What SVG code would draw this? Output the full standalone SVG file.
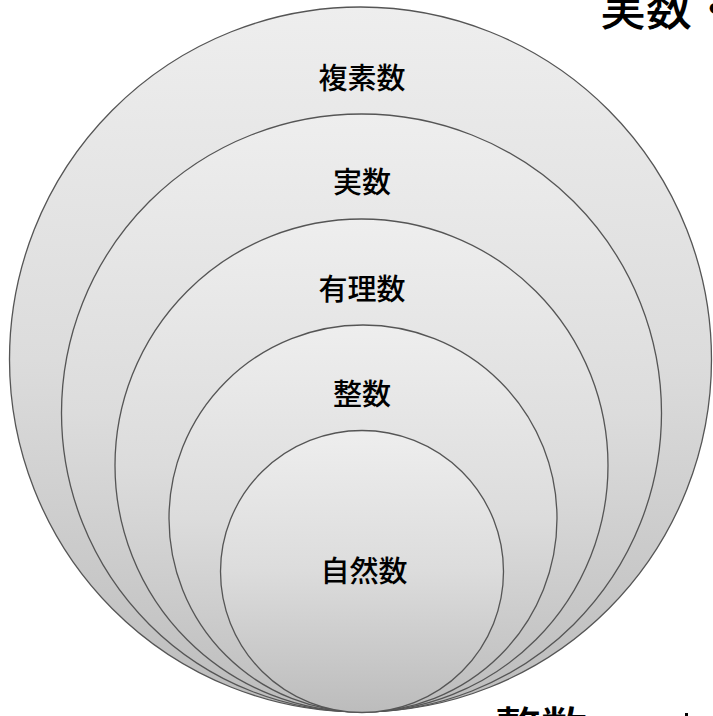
<svg xmlns="http://www.w3.org/2000/svg" width="713" height="716" viewBox="0 0 713 716">
<style>
.c{stroke:#555555;stroke-width:1.3;fill:url(#g)}
.l{font-family:"Noto Sans CJK JP","Noto Sans CJK SC",sans-serif;font-size:29px;font-weight:500;fill:#000;text-anchor:middle}
.b{font-family:"Noto Sans CJK JP","Noto Sans CJK SC",sans-serif;font-size:46px;font-weight:500;fill:#000}
</style>
<defs>
<linearGradient id="g" x1="0" y1="0" x2="0" y2="1">
<stop offset="0" stop-color="#eeeeee"/>
<stop offset="0.5" stop-color="#dcdcdc"/>
<stop offset="1" stop-color="#bcbcbc"/>
</linearGradient>
</defs>
<rect width="713" height="716" fill="#fff"/>
<g id="complex"><ellipse class="c" cx="360.5" cy="359.5" rx="351" ry="352.5"/><text class="l" x="362" y="89">複素数</text></g>
<g id="real"><ellipse class="c" cx="361.5" cy="413" rx="300" ry="299"/><text class="l" x="362" y="192.5">実数</text></g>
<g id="rational"><ellipse class="c" cx="361.5" cy="465.5" rx="246.5" ry="246.5"/><text class="l" x="362" y="299.5">有理数</text></g>
<g id="integer"><ellipse class="c" cx="363" cy="518.5" rx="194" ry="193.5"/><text class="l" x="362" y="404.5">整数</text></g>
<g id="natural"><ellipse class="c" cx="362" cy="571.5" rx="141.5" ry="141"/><text class="l" x="364" y="581.5">自然数</text></g>
<g id="connectors"/>
<text class="b" x="600" y="25">実数・</text>
<text class="b" x="495" y="745">整数</text>
<rect x="685" y="713" width="3" height="3" fill="#000"/>
</svg>
